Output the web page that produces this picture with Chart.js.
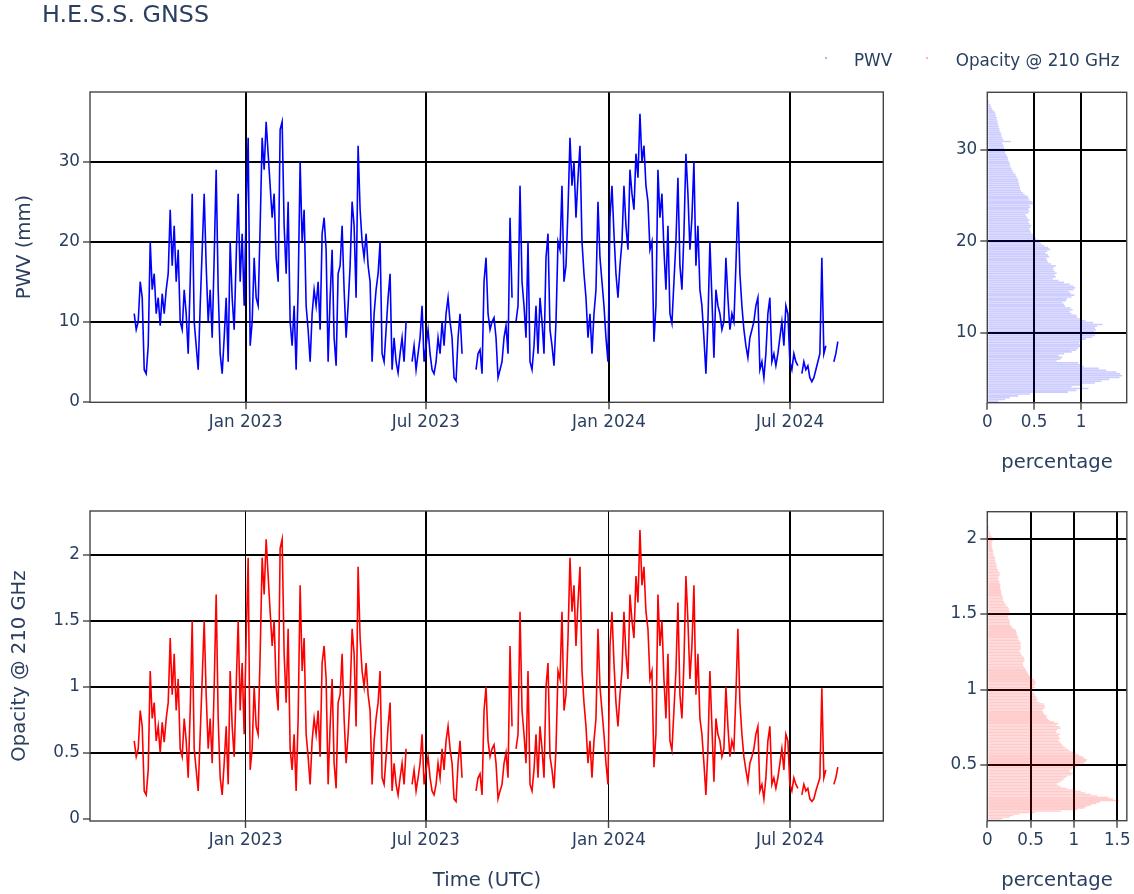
<!DOCTYPE html>
<html>
<head>
<meta charset="utf-8">
<script src="https://cdn.jsdelivr.net/npm/chart.js@4.4.1/dist/chart.umd.min.js"></script>
<style>
  body { margin: 0; background: #fff; width: 1134px; height: 894px; position: relative; overflow: hidden;
         font-family: "DejaVu Sans", sans-serif; color: #2a3f5f; }
  canvas { position: absolute; left: 0; top: 0; }
  .t { position: absolute; white-space: nowrap; line-height: 1; }
  .dot { position: absolute; width: 2px; height: 2px; }
</style>
</head>
<body>
<canvas id="tsPwv" width="1134" height="894"></canvas>
<canvas id="tsOp" width="1134" height="894"></canvas>
<canvas id="histPwv" width="1134" height="894"></canvas>
<canvas id="histOp" width="1134" height="894"></canvas>

<div class="t" style="left:42px;top:3px;font-size:23.8px">H.E.S.S. GNSS</div>
<div class="dot" style="left:825px;top:57px;background:rgba(0,0,255,0.3)"></div>
<div class="t" style="left:854px;top:51.8px;font-size:16.8px">PWV</div>
<div class="dot" style="left:926px;top:57px;background:rgba(255,0,0,0.3)"></div>
<div class="t" style="left:955.7px;top:51.8px;font-size:16.8px">Opacity @ 210 GHz</div>
<div class="t" style="left:24px;top:247px;font-size:19.6px;transform:translate(-50%,-50%) rotate(-90deg)">PWV (mm)</div>
<div class="t" style="left:19px;top:666px;font-size:19.6px;transform:translate(-50%,-50%) rotate(-90deg)">Opacity @ 210 GHz</div>
<div class="t" style="left:487px;top:880px;font-size:19.6px;transform:translate(-50%,-50%)">Time (UTC)</div>
<div class="t" style="left:1057px;top:461.5px;font-size:19.6px;transform:translate(-50%,-50%)">percentage</div>
<div class="t" style="left:1057px;top:880px;font-size:19.6px;transform:translate(-50%,-50%)">percentage</div>

<script>
// samples every ~2 days starting 11 Sep 2022 (null = no data)
const startDate = Date.UTC(2022, 8, 11);
const stepHours = 48.2;

const pwv = [
  11, 9, 10, 15, 13, 4, 3.5, 7, 20, 14, 16, 11, 13, 9.5, 13.5, 11, 14, 16, 24, 17,
  22, 15, 19, 10, 9, 14, 11, 6, 15, 26, 10, 7, 4, 12, 19, 26, 17, 10, 14, 8,
  18, 29, 14, 6, 3.5, 8, 13, 5, 20, 13, 9, 18, 26, 15, 21, 12, 24, 33, 7, 10,
  18, 13, 12, 22, 33, 29, 35, 31, 27, 23, 26, 18, 15, 34, 35, 22, 16, 25,
  10, 7, 12, 4, 14, 30, 20, 24, 12, 9, 5, 11, 14, 12, 15, 9, 21, 23, 19, 5,
  13, 19, 8, 4.5, 16, 17, 22, 14, 8, 12, 17, 25, 22, 13, 32, 24, 20, 18, 21, 17,
  15, 5, 11, 14, 16, 20, 6, 5, 9, 13, 16, 4, 8, 5, 3.6, 6, 8, 5, 10, null,
  null, 5, 7, 4, 6, 8, 12, 5, 7, 9, 6, 4, 3.5, 5, 8, 6, 10, 7, 11, 13,
  10, 8, 3, 2.6, 8, 11, 6, null, null, null, null, null, null, 4, 6,
  6.5, 3.5, 15, 18, 11, 9, 10, 10.5, 8, 3, 4, 5, 8, 9.5, 6, 23, 13, null, 10, 12,
  27, 15, 12, 8, 20, 5, 4, 7, 12, 6, 13, 10, 6, 18, 21, 9, 7, 4.5, 10, 20,
  19, 27, 15, 17, 24, 33, 27, 30, 23, 28, 32, 20, 16, 13, 8, 11, 6, 11, 14, 25,
  18, 15, 12, 8, 5, 23, 27, 21, 16, 13, 17, 20, 27, 22, 19, 29, 26, 24, 31, 28,
  36, 30, 32, 27, 25, 19, 20, 7.5, 12, 29, 23, 26, 19, 14, 22,
  11, 9.8, 15, 20, 28, 17, 14, 21, 31, 26, 19, 23, 30, 17, 22, 14, 12, 8, 3.5, 10,
  20, 13, 5.5, 14, 12, 11, 9, 10, 18, 13, 9, 11, 10, 17, 25, 16, 12, 9, 7, 5.5,
  8, 9, 10, 12, 13, 4, 5, 3, 6, 11, 13, 5, 6, 4.5, 6, 8, 10, 7, 12, 11,
  5, 4, 6, 5, 4.5, null, 3.5, 5, 4, 4.5, 3, 2.5, 3, 4, 5, 6, 18, 6, 7, null,
  null, null, 5, 6, 7.5
];

const opacity = [
  0.59, 0.47, 0.53, 0.82, 0.70, 0.21, 0.18, 0.37, 1.12, 0.76, 0.88, 0.59, 0.70, 0.50, 0.73, 0.58, 0.76, 0.88, 1.37, 0.94,
  1.25, 0.82, 1.06, 0.53, 0.47, 0.76, 0.59, 0.31, 0.82, 1.50, 0.53, 0.37, 0.21, 0.64, 1.06, 1.50, 0.94, 0.53, 0.76, 0.42,
  1.00, 1.70, 0.76, 0.31, 0.18, 0.42, 0.70, 0.26, 1.12, 0.70, 0.47, 1.00, 1.50, 0.82, 1.18, 0.64, 1.37, 1.98, 0.37, 0.53,
  1.00, 0.70, 0.64, 1.25, 1.98, 1.70, 2.12, 1.84, 1.57, 1.31, 1.50, 1.00, 0.82, 2.05, 2.12, 1.25, 0.88, 1.44,
  0.53, 0.37, 0.64, 0.21, 0.76, 1.77, 1.12, 1.37, 0.64, 0.47, 0.26, 0.59, 0.76, 0.64, 0.82, 0.47, 1.18, 1.31, 1.06, 0.26,
  0.70, 1.06, 0.42, 0.23, 0.88, 0.94, 1.25, 0.76, 0.42, 0.64, 0.94, 1.44, 1.25, 0.70, 1.91, 1.37, 1.12, 1.00, 1.18, 0.94,
  0.82, 0.26, 0.59, 0.76, 0.88, 1.12, 0.31, 0.26, 0.47, 0.70, 0.88, 0.21, 0.42, 0.26, 0.18, 0.31, 0.42, 0.26, 0.53, null,
  null, 0.26, 0.37, 0.21, 0.31, 0.42, 0.64, 0.26, 0.37, 0.47, 0.31, 0.21, 0.18, 0.26, 0.42, 0.31, 0.53, 0.37, 0.59, 0.70,
  0.53, 0.42, 0.15, 0.13, 0.42, 0.59, 0.31, null, null, null, null, null, null, 0.21, 0.31,
  0.34, 0.18, 0.82, 1.00, 0.59, 0.47, 0.53, 0.56, 0.42, 0.15, 0.21, 0.26, 0.42, 0.50, 0.31, 1.31, 0.70, null, 0.53, 0.64,
  1.57, 0.82, 0.64, 0.42, 1.12, 0.26, 0.21, 0.37, 0.64, 0.31, 0.70, 0.53, 0.31, 1.00, 1.18, 0.47, 0.37, 0.23, 0.53, 1.12,
  1.06, 1.57, 0.82, 0.94, 1.37, 1.98, 1.57, 1.77, 1.31, 1.64, 1.91, 1.12, 0.88, 0.70, 0.42, 0.59, 0.31, 0.59, 0.76, 1.44,
  1.00, 0.82, 0.64, 0.42, 0.26, 1.31, 1.57, 1.18, 0.88, 0.70, 0.94, 1.12, 1.57, 1.25, 1.06, 1.70, 1.50, 1.37, 1.84, 1.64,
  2.19, 1.77, 1.91, 1.57, 1.44, 1.06, 1.12, 0.39, 0.64, 1.70, 1.31, 1.50, 1.06, 0.76, 1.25,
  0.59, 0.52, 0.82, 1.12, 1.64, 0.94, 0.76, 1.18, 1.84, 1.50, 1.06, 1.31, 1.77, 0.94, 1.25, 0.76, 0.64, 0.42, 0.18, 0.53,
  1.12, 0.70, 0.28, 0.76, 0.64, 0.59, 0.47, 0.53, 1.00, 0.70, 0.47, 0.59, 0.53, 0.94, 1.44, 0.88, 0.64, 0.47, 0.37, 0.28,
  0.42, 0.47, 0.53, 0.64, 0.70, 0.21, 0.26, 0.15, 0.31, 0.59, 0.70, 0.26, 0.31, 0.23, 0.31, 0.42, 0.53, 0.37, 0.64, 0.59,
  0.26, 0.21, 0.31, 0.26, 0.23, null, 0.18, 0.26, 0.21, 0.23, 0.15, 0.13, 0.15, 0.21, 0.26, 0.31, 0.99, 0.31, 0.37, null,
  null, null, 0.26, 0.31, 0.39
];

// histograms (percentage per bin)
const pwvBinStart = 2.4, pwvBinWidth = 0.2;
const pwvHist = [
  0.12, 0.19, 0.24, 0.33, 0.46, 0.86, 0.95, 1.08, 0.9, 1.0,
  1.15, 1.22, 1.3, 1.41, 1.44, 1.42, 1.38, 1.27, 1.19, 1.03,
  0.99, 0.97, 0.74, 0.78, 0.8, 0.76, 0.82, 0.9, 0.95, 0.97,
  0.99, 1.0, 0.98, 1.01, 1.05, 1.12, 1.15, 1.17, 1.14, 1.16,
  1.15, 1.17, 1.23, 1.13, 1.05, 0.99, 0.96, 0.95, 0.9, 0.88,
  0.91, 0.89, 0.83, 0.82, 0.8, 0.84, 0.85, 0.9, 0.93, 0.89,
  0.87, 0.92, 0.94, 0.92, 0.88, 0.82, 0.76, 0.7, 0.73, 0.72,
  0.74, 0.72, 0.7, 0.71, 0.73, 0.68, 0.65, 0.64, 0.63, 0.66,
  0.65, 0.62, 0.64, 0.67, 0.65, 0.61, 0.58, 0.56, 0.54, 0.52,
  0.5, 0.49, 0.47, 0.46, 0.45, 0.46, 0.47, 0.45, 0.44, 0.45,
  0.43, 0.42, 0.41, 0.44, 0.45, 0.44, 0.46, 0.45, 0.5, 0.48,
  0.45, 0.44, 0.43, 0.4, 0.38, 0.36, 0.35, 0.35, 0.34, 0.34,
  0.33, 0.33, 0.32, 0.31, 0.3, 0.28, 0.27, 0.26, 0.25, 0.24,
  0.24, 0.23, 0.22, 0.22, 0.21, 0.2, 0.19, 0.19, 0.18, 0.18,
  0.17, 0.16, 0.25, 0.17, 0.16, 0.15, 0.15, 0.14, 0.13, 0.13,
  0.12, 0.12, 0.11, 0.11, 0.1, 0.1, 0.09, 0.09, 0.08, 0.06,
  0.05, 0.04, 0.03, 0.02, 0.02, 0.01, 0.01, 0.01, 0.01
];

const opBinStart = 0.13, opBinWidth = 0.01;
const opHist = [
  0.15, 0.18, 0.26, 0.3, 0.37, 0.55, 0.85, 1.04, 1.12, 1.15,
  1.2, 1.26, 1.3, 1.52, 1.45, 1.4, 1.27, 1.2, 1.13, 1.08,
  1.02, 0.92, 0.85, 0.82, 0.8, 0.83, 0.86, 0.88, 0.9, 0.92,
  0.97, 0.99, 0.96, 0.95, 0.98, 1.02, 1.04, 1.1, 1.12, 1.14,
  1.15, 1.12, 1.1, 1.06, 1.03, 0.99, 0.95, 0.93, 0.9, 0.88,
  0.86, 0.85, 0.83, 0.82, 0.84, 0.83, 0.82, 0.84, 0.8, 0.79,
  0.81, 0.85, 0.83, 0.8, 0.82, 0.77, 0.72, 0.7, 0.68, 0.69,
  0.66, 0.65, 0.64, 0.64, 0.66, 0.67, 0.66, 0.65, 0.6, 0.57,
  0.58, 0.57, 0.56, 0.55, 0.54, 0.52, 0.51, 0.53, 0.55, 0.54,
  0.55, 0.56, 0.55, 0.54, 0.52, 0.5, 0.48, 0.47, 0.46, 0.45,
  0.44, 0.43, 0.42, 0.41, 0.41, 0.42, 0.43, 0.43, 0.42, 0.4,
  0.39, 0.38, 0.37, 0.38, 0.39, 0.39, 0.38, 0.39, 0.38, 0.37,
  0.36, 0.36, 0.35, 0.34, 0.34, 0.33, 0.33, 0.3, 0.28, 0.27,
  0.26, 0.26, 0.26, 0.25, 0.24, 0.24, 0.25, 0.26, 0.26, 0.25,
  0.25, 0.24, 0.22, 0.21, 0.2, 0.19, 0.18, 0.18, 0.18, 0.17,
  0.16, 0.16, 0.16, 0.15, 0.15, 0.15, 0.15, 0.14, 0.14, 0.13,
  0.13, 0.13, 0.14, 0.15, 0.14, 0.13, 0.12, 0.11, 0.11, 0.11,
  0.1, 0.1, 0.09, 0.09, 0.09, 0.08, 0.07, 0.07, 0.07, 0.06,
  0.06, 0.05, 0.05, 0.05, 0.05, 0.06, 0.07, 0.07, 0.05, 0.04,
  0.03, 0.03, 0.02, 0.02, 0.02, 0.02, 0.01, 0.01, 0.01, 0.01,
  0.01, 0.01, 0.01, 0.005, 0.005
];

// ticks
const timeTicks = [Date.UTC(2023, 0, 1), Date.UTC(2023, 6, 1), Date.UTC(2024, 0, 1), Date.UTC(2024, 6, 1)];
const timeTickLabels = ['Jan 2023', 'Jul 2023', 'Jan 2024', 'Jul 2024'];
const pwvTicks = [0, 10, 20, 30];
const opTicks = [0, 0.5, 1, 1.5, 2];
const pwvHistTicks = [10, 20, 30];
const opHistTicks = [0.5, 1, 1.5, 2];
const pctTicksTop = [0, 0.5, 1];
const pctTicksBottom = [0, 0.5, 1, 1.5];

const W = 1134, H = 894;
const tickFont = { family: '"DejaVu Sans", sans-serif', size: 16.8 };

const frame = {
  id: 'frame',
  afterDraw(chart) {
    const a = chart.chartArea, ctx = chart.ctx;
    ctx.save();
    ctx.strokeStyle = '#444';
    ctx.lineWidth = 1.4;
    ctx.strokeRect(a.left, a.top, a.right - a.left, a.bottom - a.top);
    ctx.restore();
  }
};

function axis(min, max, tickVals, fix, label, lineWidth) {
  return {
    type: 'linear', min: min, max: max, offset: false,
    afterBuildTicks: s => { s.ticks = tickVals.map(v => ({ value: v })); },
    afterFit: fix,
    border: { display: false },
    grid: {
      offset: false,
      color: c => (c.tick && c.tick.value === 0) ? 'rgba(0,0,0,0)' : '#000',
      lineWidth: lineWidth || 2,
      drawTicks: true, tickLength: 7, tickColor: '#444', tickWidth: 1.4
    },
    ticks: {
      autoSkip: false, maxRotation: 0, minRotation: 0, padding: 3,
      color: '#2a3f5f', font: tickFont,
      callback: label || (v => String(v))
    }
  };
}

function makeChart(id, type, datasets, area, xAxis, yAxis, indexAxis) {
  xAxis.afterFit = s => { s.height = H - area.b; };
  yAxis.afterFit = s => { s.width = area.l; };
  return new Chart(document.getElementById(id), {
    type: type,
    data: { datasets: datasets },
    options: {
      responsive: false, animation: false, devicePixelRatio: 1,
      indexAxis: indexAxis || 'x',
      layout: { padding: { left: 0, top: area.t, right: W - area.r, bottom: 0 } },
      plugins: { legend: { display: false }, tooltip: { enabled: false } },
      scales: { x: xAxis, y: yAxis }
    },
    plugins: [frame]
  });
}

const timeLabel = v => timeTickLabels[timeTicks.indexOf(v)] || '';
const toPoints = arr => arr.map((v, i) => ({ x: startDate + i * stepHours * 3600e3, y: v }));
const tMin = Date.UTC(2023, 0, 1) - 156.43 * 864e5;
const tMax = Date.UTC(2024, 0, 1) + 275.6 * 864e5;

makeChart('tsPwv', 'line', [{
  data: toPoints(pwv), borderColor: '#0000ff', borderWidth: 1.6,
  pointRadius: 0, fill: false, spanGaps: false, tension: 0
}], { l: 90, r: 883.3, t: 92, b: 402.3 },
  axis(tMin, tMax, timeTicks, null, timeLabel),
  axis(-0.075, 38.71, pwvTicks));

makeChart('tsOp', 'line', [{
  data: toPoints(opacity), borderColor: '#ff0000', borderWidth: 1.6,
  pointRadius: 0, fill: false, spanGaps: false, tension: 0
}], { l: 90, r: 883.3, t: 511, b: 821 },
  axis(tMin, tMax, timeTicks, null, timeLabel, c => (c.index % 2 === 0 ? 1 : 2)),
  axis(-0.018, 2.334, opTicks));

makeChart('histPwv', 'bar', [{
  data: pwvHist.map((v, i) => ({ x: v, y: pwvBinStart + (i + 0.5) * pwvBinWidth })),
  backgroundColor: 'rgba(0,0,255,0.2)', borderWidth: 0,
  barPercentage: 0.88, categoryPercentage: 1
}], { l: 987.3, r: 1126.7, t: 92.3, b: 402.7 },
  axis(0, 1.488, pctTicksTop),
  axis(2.35, 36.27, pwvHistTicks), 'y');

makeChart('histOp', 'bar', [{
  data: opHist.map((v, i) => ({ x: v, y: opBinStart + (i + 0.5) * opBinWidth })),
  backgroundColor: 'rgba(255,0,0,0.2)', borderWidth: 0,
  barPercentage: 0.88, categoryPercentage: 1
}], { l: 987.3, r: 1127.7, t: 511.7, b: 820.7 },
  axis(0, 1.611, pctTicksBottom),
  axis(0.131, 2.179, opHistTicks), 'y');
</script>
</body>
</html>
